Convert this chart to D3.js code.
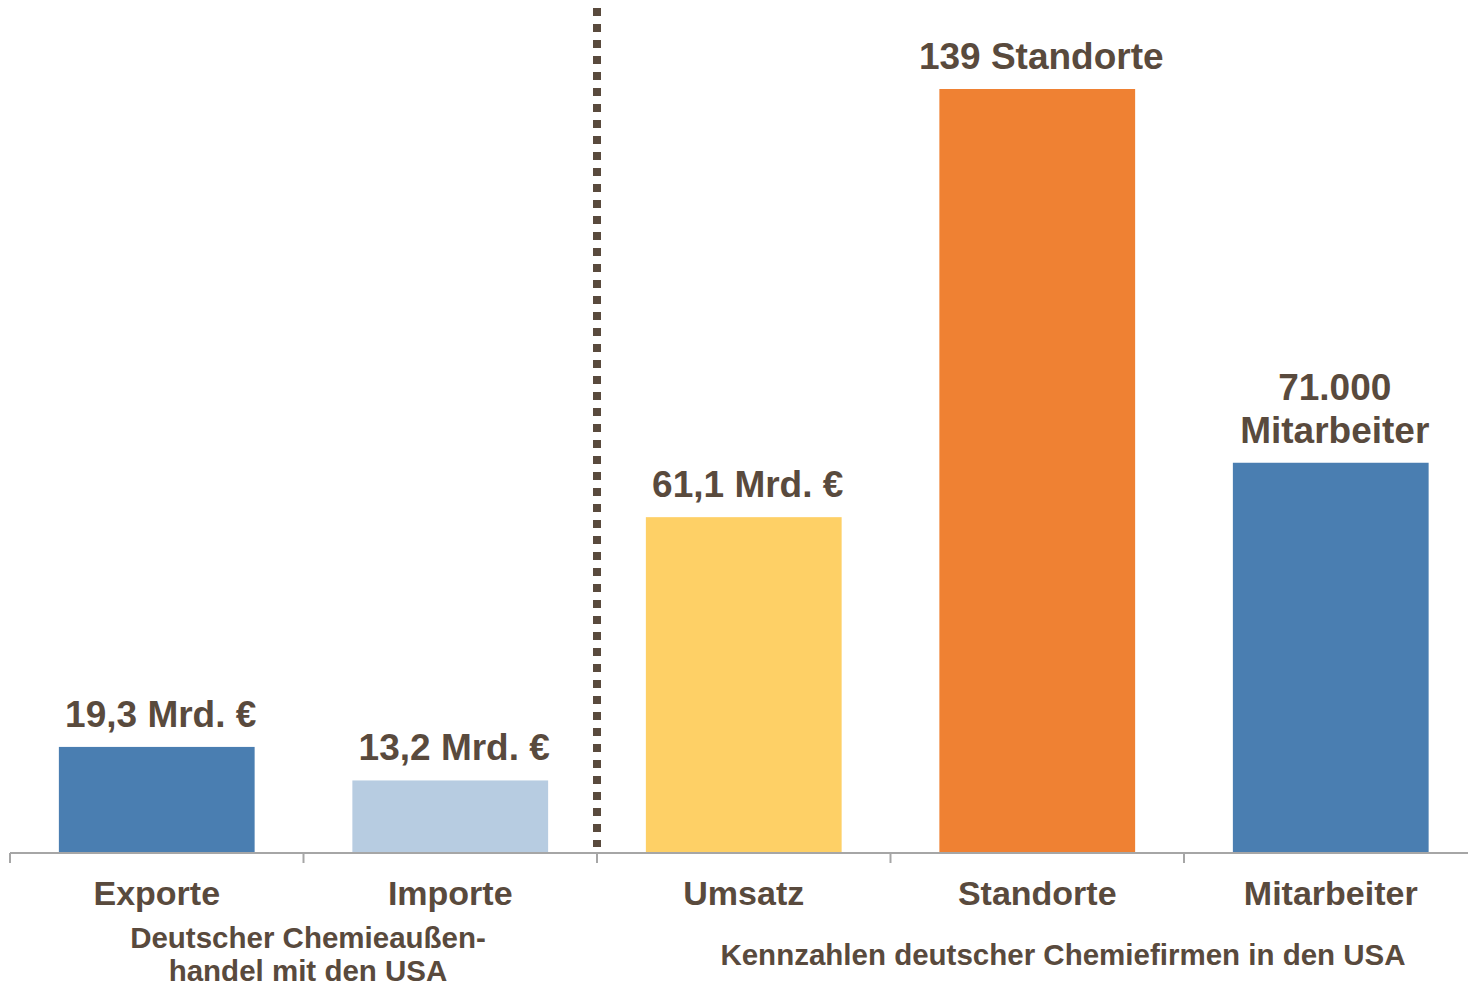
<!DOCTYPE html>
<html>
<head>
<meta charset="utf-8">
<script src="https://cdn.jsdelivr.net/npm/d3@7/dist/d3.min.js"></script>
<style>
  html, body { margin: 0; padding: 0; background: #ffffff; }
  svg { display: block; }
  text { font-family: "Liberation Sans", Arial, sans-serif; font-weight: bold; fill: #594a3d; }
</style>
</head>
<body>
<script>
// Categories, plotted values and the value captions above each bar
const categories = ["Exporte", "Importe", "Umsatz", "Standorte", "Mitarbeiter"];
const values = [19.3, 13.2, 61.1, 139, 71];
const valueLabels = [
  ["19,3 Mrd. €"],
  ["13,2 Mrd. €"],
  ["61,1 Mrd. €"],
  ["139 Standorte"],
  ["71.000", "Mitarbeiter"]
];
const barColors = ["#4a7eb1", "#b7cce1", "#fed066", "#ef8133", "#4a7eb1"];
const groupLabels = [
  { lines: ["Deutscher Chemieaußen-", "handel mit den USA"], x: 308, y: 948 },
  { lines: ["Kennzahlen deutscher Chemiefirmen in den USA"], x: 1063, y: 965 }
];

const W = 1468, H = 986;
const baseY = 853;

const svg = d3.select("body").append("svg")
  .attr("width", W).attr("height", H);

const x = d3.scaleBand()
  .domain(categories)
  .range([10, 1477.5])
  .paddingInner(0.333)
  .paddingOuter(0.1665);

const y = d3.scaleLinear()
  .domain([0, 139])
  .range([baseY, 89]);

// Bars
svg.append("g").selectAll("rect")
  .data(categories)
  .join("rect")
  .attr("x", d => x(d))
  .attr("width", x.bandwidth())
  .attr("y", (d, i) => y(values[i]))
  .attr("height", (d, i) => baseY - y(values[i]))
  .attr("fill", (d, i) => barColors[i]);

// Value captions
const lineGap = 43;
categories.forEach((c, i) => {
  const lines = valueLabels[i];
  const cx = x(c) + x.bandwidth() / 2 + 4;
  const lastBase = y(values[i]) - 20;
  svg.append("text")
    .attr("text-anchor", "middle")
    .attr("font-size", 37)
    .selectAll("tspan")
    .data(lines)
    .join("tspan")
    .attr("x", cx)
    .attr("y", (d, k) => lastBase - (lines.length - 1 - k) * lineGap)
    .text(d => d);
});

// Category axis with ticks on the band boundaries
const step = x.step();
const start = x.range()[0];
const boundaries = d3.range(categories.length + 1).map(k => start + k * step);
const axis = svg.append("g");
axis.append("line")
  .attr("x1", start).attr("x2", x.range()[1])
  .attr("y1", baseY).attr("y2", baseY)
  .attr("stroke", "#a6a6a6").attr("stroke-width", 2);
axis.selectAll("line.tick")
  .data(boundaries)
  .join("line")
  .attr("class", "tick")
  .attr("x1", d => d).attr("x2", d => d)
  .attr("y1", baseY).attr("y2", baseY + 10)
  .attr("stroke", "#a6a6a6").attr("stroke-width", 2);

axis.selectAll("text")
  .data(categories)
  .join("text")
  .attr("x", d => x(d) + x.bandwidth() / 2)
  .attr("y", 905)
  .attr("text-anchor", "middle")
  .attr("font-size", 34)
  .text(d => d);

// Dotted separator between the two groups
svg.append("line")
  .attr("x1", boundaries[2]).attr("x2", boundaries[2])
  .attr("y1", 8).attr("y2", 847)
  .attr("stroke", "#594a3d")
  .attr("stroke-width", 8)
  .attr("stroke-dasharray", "8,8");

// Group captions
groupLabels.forEach(g => {
  svg.append("text")
    .attr("text-anchor", "middle")
    .attr("font-size", 29.5)
    .selectAll("tspan")
    .data(g.lines)
    .join("tspan")
    .attr("x", g.x)
    .attr("y", (d, k) => g.y + k * 33)
    .text(d => d);
});
</script>
</body>
</html>
